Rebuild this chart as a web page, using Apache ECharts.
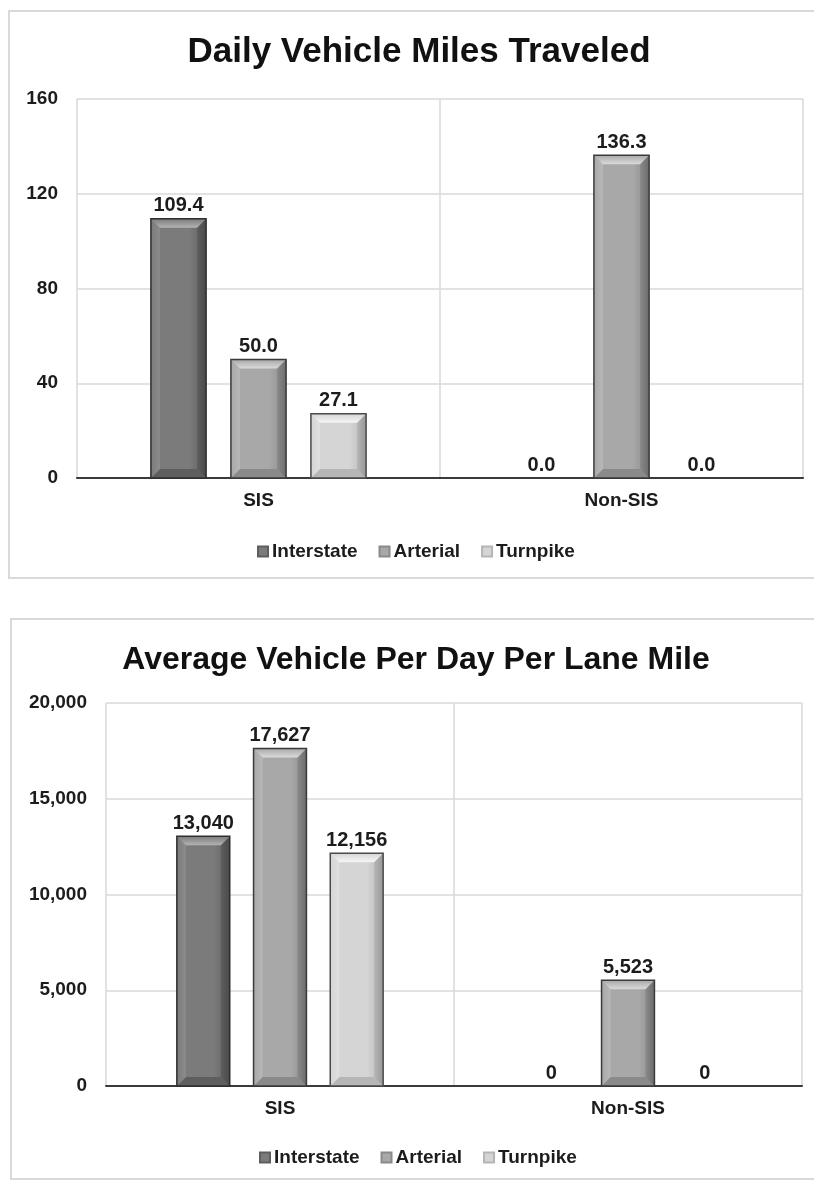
<!DOCTYPE html>
<html>
<head>
<meta charset="utf-8">
<title>Daily Vehicle Miles Traveled / Average Vehicle Per Day Per Lane Mile</title>
<script src="https://cdn.jsdelivr.net/npm/echarts@6/dist/echarts.min.js"></script>
<style>
  html, body { margin: 0; padding: 0; background: #ffffff; }
  #chart { width: 814px; height: 1180px; }
</style>
</head>
<body>
<div id="chart"></div>
<script>
// ---- data ----
const categories = ['SIS', 'Non-SIS'];
const seriesNames = ['Interstate', 'Arterial', 'Turnpike'];

// Daily Vehicle Miles Traveled
const vmtInterstate = [109.4, 0.0];
const vmtArterial   = [50.0, 136.3];
const vmtTurnpike   = [27.1, 0.0];
const vmtTicks = { min: 0, max: 160, interval: 40 };

// Average Vehicle Per Day Per Lane Mile
const vpdInterstate = [13040, 0];
const vpdArterial   = [17627, 5523];
const vpdTurnpike   = [12156, 0];
const vpdTicks = { min: 0, max: 20000, interval: 5000 };

// ---- styling ----
const FONT = '"Liberation Sans", Arial, sans-serif';
const TEXT = '#1c1c1c';
const BAR_RATIO = 0.152;   // bar width as share of category band
const GAP_RATIO = 0.45;    // gap between bars as share of bar width

// face, highlight (top bevel), left strip, right strip, bottom, outline
const palettes = [
  { face: '#7b7b7b', hi: '#b4b4b4', left: '#8c8c8c', right: '#4a4a4a', bottom: '#5e5e5e', line: '#2e2e2e' },
  { face: '#a8a8a8', hi: '#dadada', left: '#b8b8b8', right: '#6c6c6c', bottom: '#8a8a8a', line: '#3a3a3a' },
  { face: '#d5d5d5', hi: '#f6f6f6', left: '#e0e0e0', right: '#989898', bottom: '#b6b6b6', line: '#4a4a4a' }
];

const fmtVmt = v => v.toFixed(1);
const fmtVpd = v => Math.round(v).toLocaleString('en-US');

// Bevelled column drawn at the category slot given by the axis scale
function bevelRenderer(idx, count, fmt) {
  const p = palettes[idx];
  return function (params, api) {
    const cat = api.value(0);
    const val = api.value(1);
    const base = api.coord([cat, 0]);
    const top = api.coord([cat, val]);
    const band = api.size([1, 0])[0];
    const bw = band * BAR_RATIO;
    const step = bw * (1 + GAP_RATIO);
    const cx = base[0] + (idx - (count - 1) / 2) * step;
    const x = cx - bw / 2;
    const y = top[1];
    const h = base[1] - top[1];
    const children = [];
    if (h > 0.5) {
      const b = Math.min(9, h / 2, bw / 4);
      children.push({
        type: 'rect', shape: { x: x, y: y, width: bw, height: h },
        style: {
          fill: new echarts.graphic.LinearGradient(0, 0, 1, 0, [
            { offset: 0, color: p.face }, { offset: 0.7, color: p.face }, { offset: 1, color: p.bottom }
          ])
        }
      });
      children.push({
        type: 'polygon',
        shape: { points: [[x, y + h], [x + b, y + h - b], [x + bw - b, y + h - b], [x + bw, y + h]] },
        style: { fill: p.bottom }
      });
      children.push({
        type: 'polygon',
        shape: { points: [[x, y], [x + b, y + b], [x + b, y + h - b], [x, y + h]] },
        style: {
          fill: new echarts.graphic.LinearGradient(0, 0, 1, 0, [
            { offset: 0, color: p.face }, { offset: 1, color: p.left }
          ])
        }
      });
      children.push({
        type: 'polygon',
        shape: { points: [[x + bw, y], [x + bw - b, y + b], [x + bw - b, y + h - b], [x + bw, y + h]] },
        style: {
          fill: new echarts.graphic.LinearGradient(0, 0, 1, 0, [
            { offset: 0, color: p.bottom }, { offset: 1, color: p.right }
          ])
        }
      });
      children.push({
        type: 'polygon',
        shape: { points: [[x, y], [x + bw, y], [x + bw - b, y + b], [x + b, y + b]] },
        style: {
          fill: new echarts.graphic.LinearGradient(0, 0, 0, 1, [
            { offset: 0, color: p.face }, { offset: 1, color: p.hi }
          ])
        }
      });
      children.push({
        type: 'rect', shape: { x: x, y: y, width: bw, height: h },
        style: { fill: 'none', stroke: p.line, lineWidth: 1.5 }
      });
    }
    children.push({
      type: 'text',
      x: cx, y: y - 3,
      style: {
        text: fmt(val), textAlign: 'center', textVerticalAlign: 'bottom',
        font: 'bold 20px ' + FONT, fill: TEXT
      }
    });
    return { type: 'group', children: children };
  };
}

function toPairs(values) {
  return values.map((v, i) => [i, v]);
}

function buildSeries(lists, axisIndex, fmt) {
  return lists.map((vals, i) => ({
    name: seriesNames[i],
    type: 'custom',
    xAxisIndex: axisIndex,
    yAxisIndex: axisIndex,
    itemStyle: { color: palettes[i].face, borderColor: palettes[i].bottom, borderWidth: 1 },
    renderItem: bevelRenderer(i, lists.length, fmt),
    encode: { x: 0, y: 1 },
    data: toPairs(vals),
    z: 3
  }));
}

const axisText = { color: TEXT, fontFamily: FONT, fontWeight: 'bold', fontSize: 19 };

function xAxisFor(gridIndex) {
  return {
    type: 'category', gridIndex: gridIndex, data: categories,
    axisLine: { show: true, lineStyle: { color: '#3a3a3a', width: 2 } },
    axisTick: { show: false },
    axisLabel: Object.assign({ margin: 13 }, axisText),
    splitLine: { show: true, lineStyle: { color: '#d9d9d9', width: 1.5 } }
  };
}

function yAxisFor(gridIndex, ticks, fmt) {
  return {
    type: 'value', gridIndex: gridIndex,
    min: ticks.min, max: ticks.max, interval: ticks.interval,
    axisLine: { show: false }, axisTick: { show: false },
    axisLabel: Object.assign({ margin: 19, formatter: fmt }, axisText),
    splitLine: { show: true, lineStyle: { color: '#d9d9d9', width: 1.5 } }
  };
}

const legendBase = {
  data: seriesNames,
  icon: 'rect', itemWidth: 10, itemHeight: 10, itemGap: 21,
  textStyle: { color: TEXT, fontFamily: FONT, fontWeight: 'bold', fontSize: 19, padding: [0, 0, 0, -1] },
  selectedMode: false
};

const chart = echarts.init(document.getElementById('chart'), null, { renderer: 'canvas' });

chart.setOption({
  animation: false,
  backgroundColor: '#ffffff',
  graphic: [
    { type: 'rect', shape: { x: 9, y: 11, width: 820, height: 567 },
      style: { fill: 'none', stroke: '#d9d9d9', lineWidth: 2 }, z: -10 },
    { type: 'rect', shape: { x: 11, y: 619, width: 820, height: 560 },
      style: { fill: 'none', stroke: '#d9d9d9', lineWidth: 2 }, z: -10 },
    { type: 'text', x: 419, y: 52,
      style: { text: 'Daily Vehicle Miles Traveled', textAlign: 'center', textVerticalAlign: 'middle',
               font: 'bold 35px ' + FONT, fill: '#111111' } },
    { type: 'text', x: 416, y: 660,
      style: { text: 'Average Vehicle Per Day Per Lane Mile', textAlign: 'center', textVerticalAlign: 'middle',
               font: 'bold 32px ' + FONT, fill: '#111111' } }
  ],
  grid: [
    { left: 77, right: 11, top: 99, height: 379 },
    { left: 106, right: 12, top: 703, height: 383 }
  ],
  xAxis: [xAxisFor(0), xAxisFor(1)],
  yAxis: [
    yAxisFor(0, vmtTicks, v => String(v)),
    yAxisFor(1, vpdTicks, v => fmtVpd(v))
  ],
  legend: [
    Object.assign({ top: 537, left: 252 }, legendBase),
    Object.assign({ top: 1143, left: 254 }, legendBase)
  ],
  series: [
    ...buildSeries([vmtInterstate, vmtArterial, vmtTurnpike], 0, fmtVmt),
    ...buildSeries([vpdInterstate, vpdArterial, vpdTurnpike], 1, fmtVpd)
  ]
});
</script>
</body>
</html>
